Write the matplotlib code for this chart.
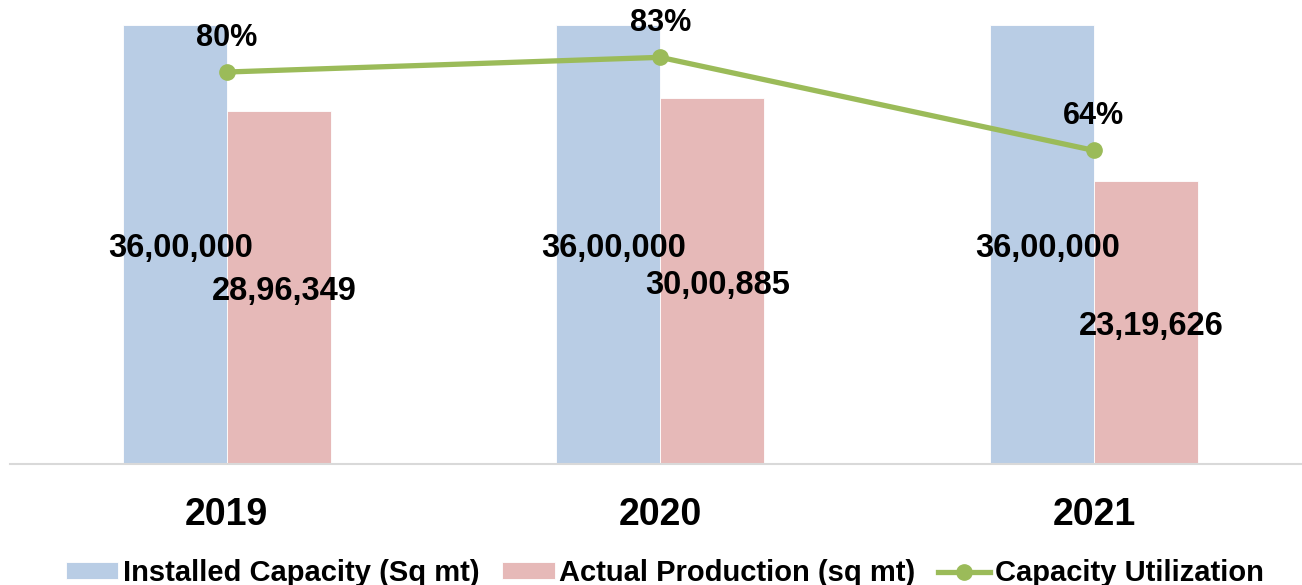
import matplotlib
matplotlib.use("Agg")
import matplotlib.pyplot as plt
import numpy as np

years = ["2019", "2020", "2021"]
installed = [3600000, 3600000, 3600000]
actual = [2896349, 3000885, 2319626]
utilization = [80, 83, 64]

BLUE = "#B9CDE5"
RED = "#E6B9B8"
GREEN = "#9BBB59"

plt.rcParams["font.family"] = ["Liberation Sans", "DejaVu Sans"]
plt.rcParams["font.weight"] = "bold"


def indian_format(n):
    s = str(int(n))
    if len(s) <= 3:
        return s
    head, tail = s[:-3], s[-3:]
    parts = []
    while len(head) > 2:
        parts.insert(0, head[-2:])
        head = head[:-2]
    if head:
        parts.insert(0, head)
    return ",".join(parts + [tail])


fig = plt.figure(figsize=(13.02, 5.85), dpi=100)
bottom = (585 - 464) / 585
top_px = -24
height = (464 - top_px) / 585
left = 10 / 1302
ax = fig.add_axes([left, bottom, 1 - left, height])

x = np.arange(len(years))
w = 0.24
b1 = ax.bar(x - w / 2, installed, w, color=BLUE, label="Installed Capacity (Sq mt)",
            edgecolor="white", linewidth=0.6, zorder=2)
b2 = ax.bar(x + w / 2, actual, w, color=RED, label="Actual Production (sq mt)",
            edgecolor="white", linewidth=0.6, zorder=2)

# value labels centred inside each bar
for bars, vals in ((b1, installed), (b2, actual)):
    for rect, v in zip(bars, vals):
        ax.annotate(indian_format(v), (rect.get_x() + rect.get_width() / 2, v / 2),
                    xytext=(4, -3), textcoords="offset points",
                    ha="center", va="center", fontsize=23.5, fontweight="bold",
                    zorder=5)

ax.set_xlim(-0.5, 2.48)
ax.set_ylim(0, 4000000)
ax.set_yticks([])
ax.set_xticks(x)
ax.set_xticklabels(years, fontsize=27, fontweight="bold")
ax.tick_params(axis="x", length=0, pad=24)
for side in ["top", "right", "left"]:
    ax.spines[side].set_visible(False)
ax.spines["bottom"].set_color("#D9D9D9")
ax.spines["bottom"].set_linewidth(1.5)

ax2 = ax.twinx()
ax2.set_ylim(0, 99.6)
ax2.set_yticks([])
for side in ["top", "right", "left", "bottom"]:
    ax2.spines[side].set_visible(False)
ln, = ax2.plot(x, utilization, color=GREEN, linewidth=3.8, marker="o",
               markersize=11, label="Capacity Utilization", zorder=4)
for xi, v in zip(x, utilization):
    ax2.annotate(f"{v}%", (xi, v), xytext=(0, 14), textcoords="offset points",
                 ha="center", va="bottom", fontsize=22, fontweight="bold")

handles = [b1, b2, ln]
labels = [h.get_label() for h in handles]
fig.legend(handles, labels, loc="center", bbox_to_anchor=(665 / 1302, 12 / 585),
           ncol=3, frameon=False, prop={"size": 21, "weight": "bold"},
           handlelength=1.8, handleheight=0.52, handletextpad=0.17,
           columnspacing=0.76, borderaxespad=0)

fig.savefig("out.png", dpi=100)
